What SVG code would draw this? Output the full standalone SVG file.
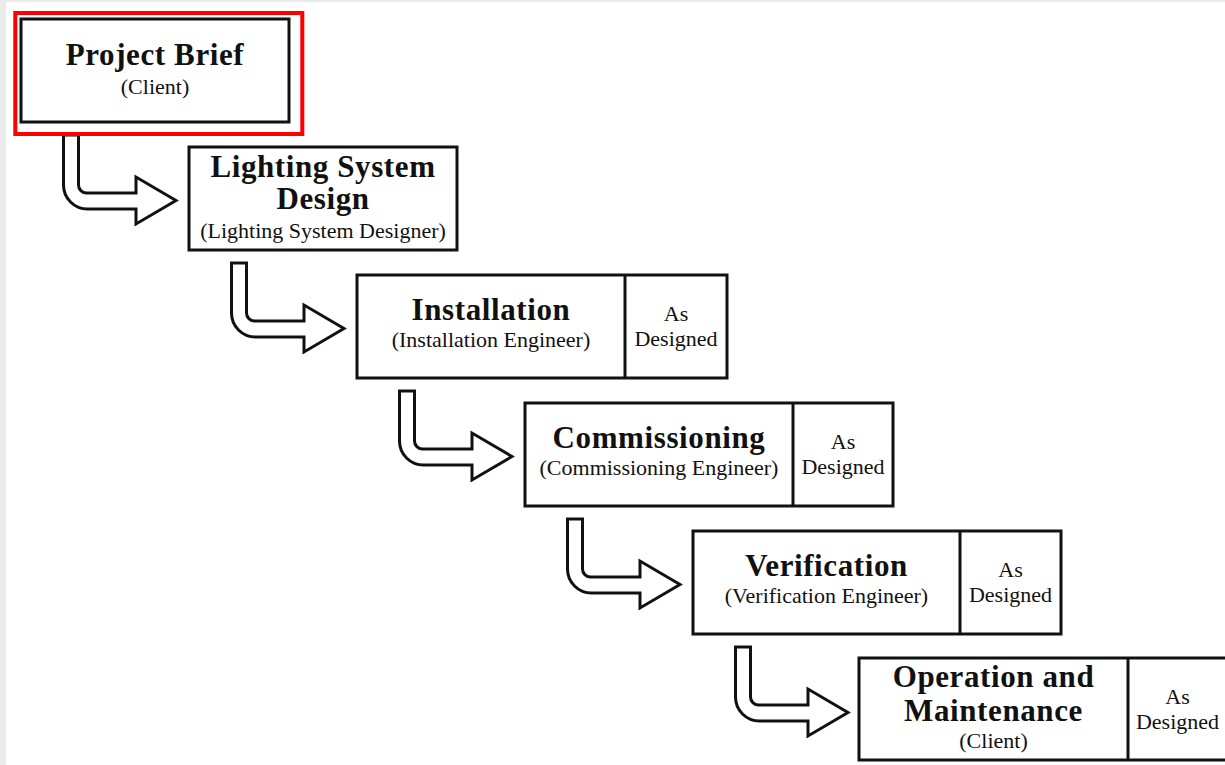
<svg xmlns="http://www.w3.org/2000/svg" width="1225" height="765" viewBox="0 0 1225 765">
<style>
.box{fill:#fff;stroke:#111;stroke-width:3}
.div{stroke:#111;stroke-width:3}
.arrow{fill:#fff;stroke:#111;stroke-width:3;stroke-linejoin:miter}
.t{font-family:"Liberation Serif","Times New Roman",serif;font-weight:bold;font-size:31px;letter-spacing:0.6px;fill:#111;text-anchor:middle}
.s{font-family:"Liberation Serif","Times New Roman",serif;font-size:22px;fill:#111;text-anchor:middle}
</style>
<defs>
<path id="arr" d="M63.5,135 H78.5 V185 A8,8 0 0 0 86.5,193 H136 V177 L176,200.5 L136,224 V209 H87.5 A24,24 0 0 1 63.5,185 Z"/>
</defs>
<rect x="0" y="0" width="1225" height="765" fill="#fff"/>
<rect x="0" y="0" width="1225" height="2" fill="#ebebeb"/>
<rect x="0" y="0" width="6" height="765" fill="#ebebeb"/>

<g id="connectors">
<use href="#arr" class="arrow"/>
<use href="#arr" class="arrow" transform="translate(168,128)"/>
<use href="#arr" class="arrow" transform="translate(336,256)"/>
<use href="#arr" class="arrow" transform="translate(504,384)"/>
<use href="#arr" class="arrow" transform="translate(672,512)"/>
</g>

<g id="project-brief">
<rect x="15.3" y="13" width="287" height="121" fill="none" stroke="#f00" stroke-width="4"/>
<rect class="box" x="21" y="19" width="268" height="103"/>
<text class="t" x="155" y="65">Project Brief</text>
<text class="s" x="155" y="94">(Client)</text>
</g>

<g id="lighting-design">
<rect class="box" x="189" y="147" width="268" height="103"/>
<text class="t" x="323" y="177">Lighting System</text>
<text class="t" x="323" y="209">Design</text>
<text class="s" x="323" y="238">(Lighting System Designer)</text>
</g>

<g id="installation">
<rect class="box" x="357" y="275" width="370" height="103"/>
<line class="div" x1="625" y1="275" x2="625" y2="378"/>
<text class="t" x="491" y="320">Installation</text>
<text class="s" x="491" y="347">(Installation Engineer)</text>
<text class="s" x="676" y="321">As</text>
<text class="s" x="676" y="346">Designed</text>
</g>

<g id="commissioning">
<rect class="box" x="525" y="403" width="368" height="103"/>
<line class="div" x1="793" y1="403" x2="793" y2="506"/>
<text class="t" x="659" y="448">Commissioning</text>
<text class="s" x="659" y="475">(Commissioning Engineer)</text>
<text class="s" x="843" y="449">As</text>
<text class="s" x="843" y="474">Designed</text>
</g>

<g id="verification">
<rect class="box" x="693" y="531" width="368" height="103"/>
<line class="div" x1="960" y1="531" x2="960" y2="634"/>
<text class="t" x="826.5" y="576">Verification</text>
<text class="s" x="826.5" y="603">(Verification Engineer)</text>
<text class="s" x="1010.5" y="577">As</text>
<text class="s" x="1010.5" y="602">Designed</text>
</g>

<g id="operation-maintenance">
<rect class="box" x="859" y="658" width="372" height="102"/>
<line class="div" x1="1128" y1="658" x2="1128" y2="760"/>
<text class="t" x="993.5" y="687">Operation and</text>
<text class="t" x="993.5" y="721">Maintenance</text>
<text class="s" x="993.5" y="748">(Client)</text>
<text class="s" x="1177.5" y="704">As</text>
<text class="s" x="1177.5" y="729">Designed</text>
</g>
</svg>
